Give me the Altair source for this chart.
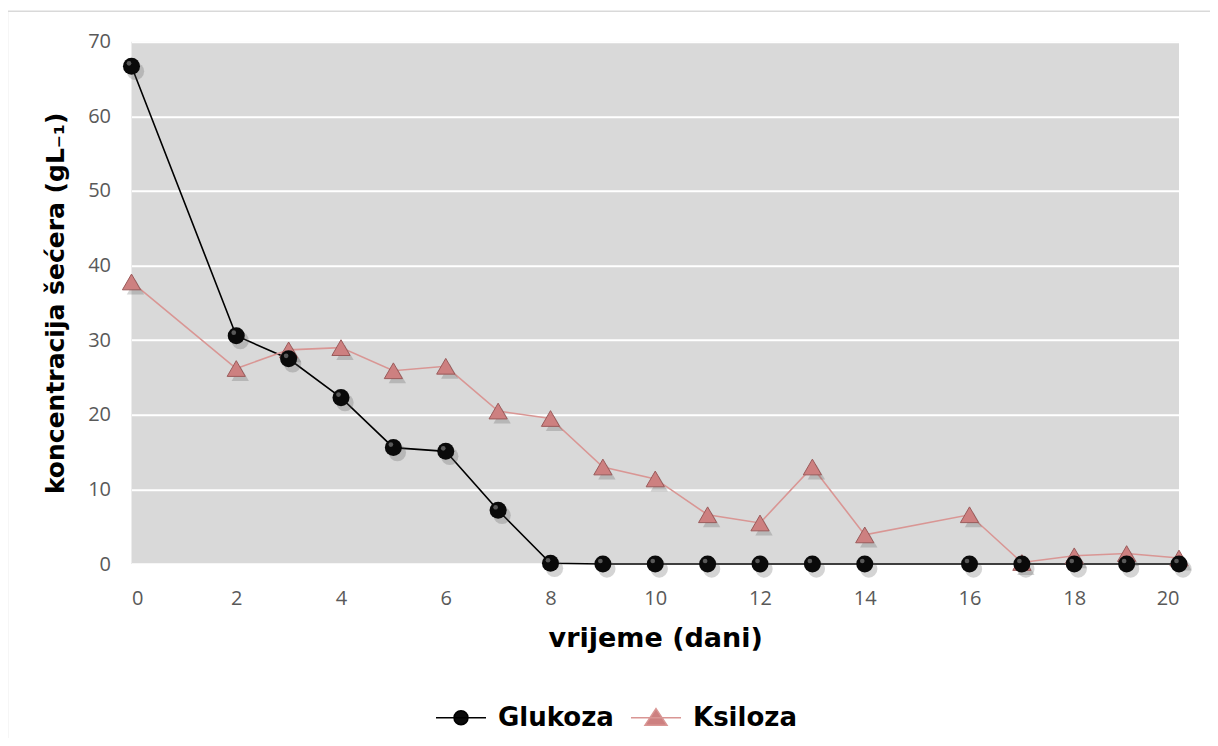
import altair as alt
import pandas as pd

days_g = [0, 2, 3, 4, 5, 6, 7, 8, 9, 10, 11, 12, 13, 14, 16, 17, 18, 19, 20]
glukoza = [66.7, 30.6, 27.5, 22.3, 15.6, 15.1, 7.2, 0.1, 0.0, 0.0, 0.0, 0.0, 0.0, 0.0, 0.0, 0.0, 0.0, 0.0, 0.0]
days_k = [0, 2, 3, 4, 5, 6, 7, 8, 9, 10, 11, 12, 13, 14, 16, 17, 18, 19, 20]
ksiloza = [37.8, 26.2, 28.7, 29.0, 25.9, 26.5, 20.5, 19.5, 13.0, 11.4, 6.6, 5.5, 13.0, 3.9, 6.6, 0.2, 1.1, 1.4, 0.8]
series_names = ["Glukoza", "Ksiloza"]
x_ticks = [0, 2, 4, 6, 8, 10, 12, 14, 16, 18, 20]
y_ticks = [0, 10, 20, 30, 40, 50, 60, 70]

df_g = pd.DataFrame({"dan": days_g, "c": glukoza, "serija": series_names[0]})
df_k = pd.DataFrame({"dan": days_k, "c": ksiloza, "serija": series_names[1]})
df = pd.concat([df_g, df_k])

W, H = 1047.5, 522.3

xs = alt.Scale(domain=[0, 20], nice=False, zero=False)
ys = alt.Scale(domain=[0, 70], nice=False)
shp = alt.Scale(domain=series_names, range=["circle", "triangle-up"])

x_enc = alt.X("dan:Q", scale=xs, axis=alt.Axis(
    values=x_ticks, title="vrijeme (dani)", grid=False, domain=False, ticks=False,
    labelPadding=24, labelFontSize=20, labelColor="#595959", labelFont="Open Sans",
    titleFont="DejaVu Sans", titleFontSize=27, titleFontWeight="bold", titleColor="#000000",
    titleY=74, titleBaseline="middle"))
y_enc = alt.Y("c:Q", scale=ys, axis=alt.Axis(
    values=y_ticks, title="koncentracija šećera (gL₋₁)", grid=True, gridColor="#ffffff",
    gridWidth=2, domain=False, ticks=False, labelPadding=21, labelFontSize=20,
    labelColor="#595959", labelFont="Open Sans",
    titleFont="DejaVu Sans", titleFontSize=25, titleFontWeight="bold", titleColor="#000000",
    titleX=-76, titleY=H / 2, titleBaseline="middle", titleAlign="center", titleAngle=-90))

xp = alt.X("dan:Q", scale=xs)
yp = alt.Y("c:Q", scale=ys)

PATH_G = "M-1,0L1,0M0.28,0A0.28,0.28,0,1,1,-0.28,0A0.28,0.28,0,1,1,0.28,0Z"
PATH_K = "M-1,0L1,0M0,-0.36L0.44,0.3L-0.44,0.3Z"


def leg(x, path, stroke):
    return alt.Legend(
        title=None, orient="none", legendX=x, legendY=650, direction="horizontal",
        symbolType=path, symbolSize=2500, symbolStrokeWidth=1.5, symbolStrokeColor=stroke,
        symbolOpacity=1, labelFont="DejaVu Sans", labelFontSize=26, labelFontWeight="bold",
        labelColor="#000000", labelOffset=11, padding=0)


line_g = alt.Chart(df_g).mark_line(strokeWidth=1.6, color="#000000").encode(x=x_enc, y=y_enc)
line_k = alt.Chart(df_k).mark_line(strokeWidth=1.6, color="#d99694").encode(x=xp, y=yp)

shadow = alt.Chart(df).mark_point(filled=True, color="#555555", opacity=0.25, xOffset=4, yOffset=5, size=300).encode(
    x=xp, y=yp, shape=alt.Shape("serija:N", scale=shp, legend=None),
)

pts_g = alt.Chart(df_g).mark_point(
    filled=True, strokeWidth=1, opacity=1, size=290, shape="circle"
).encode(x=xp, y=yp, color=alt.Color("serija:N", scale=alt.Scale(domain=[series_names[0]], range=["#0a0a0a"]),
                                     legend=leg(303.5, PATH_G, "#000000")))

hl_g = alt.Chart(df_g).mark_point(
    filled=True, fill="#7a7a7a", opacity=0.7, size=22, shape="circle", xOffset=-2.5, yOffset=-3
).encode(x=xp, y=yp)

pts_k = alt.Chart(df_k).mark_point(
    filled=True, stroke="#9a5a5a", strokeWidth=1, opacity=1, size=330, shape="triangle-up"
).encode(x=xp, y=yp, color=alt.Color("serija:N", scale=alt.Scale(domain=[series_names[1]], range=["#cd8080"]),
                                     legend=leg(498.5, PATH_K, "#d99694")))

frame_top = alt.Chart(pd.DataFrame({"k": [0]})).mark_rule(color="#d9d9d9", strokeWidth=1.5).encode(
    x=alt.value(-124), x2=alt.value(1100), y=alt.value(-30.5))
frame_left = alt.Chart(pd.DataFrame({"k": [0]})).mark_rule(color="#d9d9d9", strokeWidth=1.5).encode(
    x=alt.value(-124), y=alt.value(-30.5), y2=alt.value(720))

chart = alt.layer(frame_top, frame_left, line_g, line_k, shadow, pts_k, pts_g, hl_g).resolve_scale(
    color="independent"
).properties(
    width=W, height=H,
    padding={"left": 123.5, "top": 33.7, "right": 31, "bottom": 174},
    autosize=alt.AutoSizeParams(type="none"),
).configure_view(fill="#d9d9d9", strokeWidth=0)

chart.save("out.html", embed_options={"renderer": "svg", "actions": False})
